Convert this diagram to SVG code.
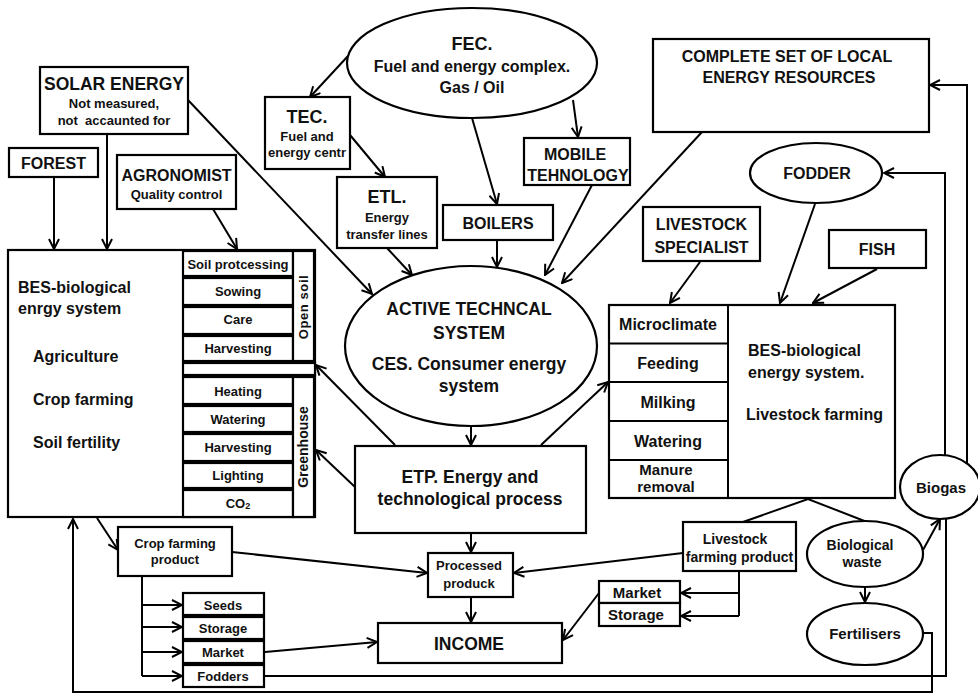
<svg xmlns="http://www.w3.org/2000/svg" width="978" height="694" viewBox="0 0 978 694">
<style>
.b{fill:#fff;stroke:#000;stroke-width:2.2}
.c{fill:none;stroke:#000;stroke-width:2;marker-end:url(#a)}
.l{fill:none;stroke:#000;stroke-width:2}
text{font-family:"Liberation Sans",Arial,sans-serif;font-weight:bold;fill:#111}
.m{text-anchor:middle}
.s13{font-size:13px}.s14{font-size:14px}.s15{font-size:15px}.s16{font-size:16px}.s17{font-size:17.5px}.s18{font-size:18px}
</style>
<defs>
<marker id="a" viewBox="0 0 12 12" refX="11" refY="6" markerWidth="12" markerHeight="12" markerUnits="userSpaceOnUse" orient="auto">
<path d="M1,1 L11,6 L1,11" fill="none" stroke="#000" stroke-width="2"/>
</marker>
</defs>
<rect width="978" height="694" fill="#fff"/>

<g id="connectors">
<path class="c" d="M348,56 L310,97"/>
<path class="c" d="M350,135 L385,177"/>
<path class="c" d="M472,118 L497,204"/>
<path class="c" d="M573,100 L578,137"/>
<path class="c" d="M188,100 L372,294"/>
<path class="c" d="M387,248 L412,275"/>
<path class="c" d="M497,240 L497,267"/>
<path class="c" d="M592,185 L545,275"/>
<path class="c" d="M702,132 L562,283"/>
<path class="c" d="M54,177 L54,249"/>
<path class="c" d="M107,134 L107,249"/>
<path class="c" d="M213,209 L237,249"/>
<path class="c" d="M471,426 L471,445"/>
<path class="c" d="M395,445 L316,365"/>
<path class="c" d="M355,487 L316,450"/>
<path class="c" d="M541,445 L608,382"/>
<path class="c" d="M700,262 L670,303"/>
<path class="c" d="M815,204 L780,303"/>
<path class="c" d="M877,269 L813,303"/>
<path class="c" d="M945,456 L945,173 L884,173"/>
<path class="c" d="M967,464 L967,85 L930,85"/>
<path class="l" d="M743,522 L808,499 L867,522"/>
<path class="c" d="M923,550 L940,519"/>
<path class="c" d="M865,588 L865,602"/>
<path class="c" d="M471,534 L471,552"/>
<path class="c" d="M471,597 L471,622"/>
<path class="c" d="M232,552 L427,573"/>
<path class="c" d="M683,553 L514,573"/>
<path class="l" d="M739,571 L739,616"/>
<path class="c" d="M739,593 L681,593"/>
<path class="c" d="M739,616 L681,616"/>
<path class="c" d="M599,593 L563,640"/>
<path class="c" d="M97,518 L118,550"/>
<path class="l" d="M142,576 L142,676"/>
<path class="c" d="M142,605 L182,605"/>
<path class="c" d="M142,627 L182,627"/>
<path class="c" d="M142,652 L182,652"/>
<path class="c" d="M142,676 L182,676"/>
<path class="c" d="M265,652 L377,642"/>
<path class="l" d="M265,676 L946,676 L946,519"/>
<path class="c" d="M923,633 L932,633 L932,692 L73,692 L73,519"/>
</g>

<g id="solar"><rect class="b" x="40" y="67" width="148" height="67"/>
<text class="m s17" x="114" y="90">SOLAR ENERGY</text>
<text class="m s13" x="114" y="108">Not measured,</text>
<text class="m s13" x="114" y="125" xml:space="preserve">not  accaunted for</text></g>

<g id="forest"><rect class="b" x="9" y="148" width="89" height="29"/>
<text class="m s16" x="53.5" y="169">FOREST</text></g>

<g id="agronomist"><rect class="b" x="117" y="155" width="119" height="54"/>
<text class="m s16" x="176.5" y="181">AGRONOMIST</text>
<text class="m s13" x="176.5" y="199">Quality control</text></g>

<g id="tec"><rect class="b" x="265" y="97" width="85" height="72"/>
<text class="m s18" x="307" y="123">TEC.</text>
<text class="m s13" x="307" y="141">Fuel and</text>
<text class="m s13" x="307" y="157">energy centr</text></g>

<g id="fec"><ellipse class="b" cx="472" cy="63" rx="125" ry="55"/>
<text class="m s18" x="472" y="50">FEC.</text>
<text class="m s16" x="472" y="72">Fuel and energy complex.</text>
<text class="m s16" x="472" y="93">Gas / Oil</text></g>

<g id="etl"><rect class="b" x="337" y="177" width="100" height="71"/>
<text class="m s18" x="387" y="203">ETL.</text>
<text class="m s13" x="387" y="222">Energy</text>
<text class="m s13" x="387" y="239">transfer lines</text></g>

<g id="boilers"><rect class="b" x="443" y="205" width="110" height="35"/>
<text class="m s16" x="498" y="229">BOILERS</text></g>

<g id="mobile"><rect class="b" x="524" y="138" width="106" height="47"/>
<text class="m s16" x="575" y="160">MOBILE</text>
<text class="m s16" x="578" y="181">TEHNOLOGY</text></g>

<g id="complete"><rect class="b" x="653" y="39" width="276" height="93"/>
<text class="m s16" x="787" y="62">COMPLETE SET OF LOCAL</text>
<text class="m s16" x="789" y="83">ENERGY RESOURCES</text></g>

<g id="fodder"><ellipse class="b" cx="816" cy="173" rx="66" ry="30"/>
<text class="m s16" x="817" y="179">FODDER</text></g>

<g id="livestock-specialist"><rect class="b" x="643" y="207" width="117" height="54"/>
<text class="m s16" x="701.5" y="230">LIVESTOCK</text>
<text class="m s16" x="701.5" y="253">SPECIALIST</text></g>

<g id="fish"><rect class="b" x="829" y="230" width="97" height="38"/>
<text class="m s16" x="877" y="255">FISH</text></g>

<g id="active"><ellipse class="b" cx="471" cy="346" rx="126" ry="80"/>
<text class="m s17" x="469" y="315">ACTIVE TECHNCAL</text>
<text class="m s17" x="469" y="339">SYSTEM</text>
<text class="m s17" x="469" y="370">CES. Consumer energy</text>
<text class="m s17" x="469" y="392">system</text></g>

<g id="etp"><rect class="b" x="355" y="446" width="231" height="87"/>
<text class="m s17" x="470" y="483">ETP. Energy and</text>
<text class="m s17" x="470" y="505">technological process</text></g>

<g id="bes-crop"><rect class="b" x="8" y="250" width="307" height="267"/>
<text class="s16" x="18" y="293">BES-biological</text>
<text class="s16" x="18" y="314">enrgy system</text>
<text class="s16" x="33" y="362">Agriculture</text>
<text class="s16" x="33" y="405">Crop farming</text>
<text class="s16" x="33" y="448">Soil fertility</text>
<rect class="b" x="183" y="251" width="110" height="25"/>
<rect class="b" x="183" y="278" width="110" height="27"/>
<rect class="b" x="183" y="307" width="110" height="27"/>
<rect class="b" x="183" y="336" width="110" height="25"/>
<rect class="b" x="293" y="251" width="21" height="110"/>
<rect class="b" x="183" y="363" width="132" height="12"/>
<rect class="b" x="183" y="377" width="110" height="27"/>
<rect class="b" x="183" y="406" width="110" height="26"/>
<rect class="b" x="183" y="434" width="110" height="27"/>
<rect class="b" x="183" y="463" width="110" height="25"/>
<rect class="b" x="183" y="490" width="110" height="27"/>
<rect class="b" x="293" y="377" width="21" height="140"/>
<text class="m s13" x="238" y="269">Soil protcessing</text>
<text class="m s13" x="238" y="296">Sowing</text>
<text class="m s13" x="238" y="324">Care</text>
<text class="m s13" x="238" y="353">Harvesting</text>
<text class="m s13" x="238" y="396">Heating</text>
<text class="m s13" x="238" y="424">Watering</text>
<text class="m s13" x="238" y="452">Harvesting</text>
<text class="m s13" x="238" y="480">Lighting</text>
<text class="m s13" x="238" y="508">CO<tspan font-size="9" dy="1">2</tspan></text>
<text class="m s13" transform="translate(308,307) rotate(-90)" letter-spacing="0.6">Open soil</text>
<text class="m s14" transform="translate(308,447) rotate(-90)">Greenhouse</text></g>

<g id="bes-livestock"><rect class="b" x="609" y="305" width="286" height="193"/>
<path class="l" d="M728,305 V498 M609,343.5 H728 M609,382 H728 M609,421 H728 M609,460 H728"/>
<text class="m s16" x="668" y="330">Microclimate</text>
<text class="m s16" x="668" y="369">Feeding</text>
<text class="m s16" x="668" y="408">Milking</text>
<text class="m s16" x="668" y="447">Watering</text>
<text class="m s15" x="666" y="475">Manure</text>
<text class="m s15" x="666" y="492">removal</text>
<text class="s16" x="748" y="356">BES-biological</text>
<text class="s16" x="748" y="378">energy system.</text>
<text class="s16" x="746" y="420">Livestock farming</text></g>

<g id="crop-product"><rect class="b" x="118" y="527" width="114" height="49"/>
<text class="m s13" x="175" y="548">Crop farming</text>
<text class="m s13" x="175" y="564">product</text></g>

<g id="crop-uses">
<rect class="b" x="183" y="593" width="81" height="22"/>
<rect class="b" x="183" y="617" width="81" height="22"/>
<rect class="b" x="183" y="641" width="81" height="22"/>
<rect class="b" x="183" y="665" width="81" height="22"/>
<text class="m s13" x="223" y="610">Seeds</text>
<text class="m s13" x="223" y="633">Storage</text>
<text class="m s13" x="223" y="657">Market</text>
<text class="m s13" x="223" y="681">Fodders</text></g>

<g id="processed"><rect class="b" x="428" y="553" width="85" height="44"/>
<text class="m s13" x="469" y="570">Processed</text>
<text class="m s13" x="469" y="588">produck</text></g>

<g id="income"><rect class="b" x="378" y="623" width="184" height="40"/>
<text class="m s17" x="469" y="650">INCOME</text></g>

<g id="market-storage"><rect class="b" x="599" y="581" width="81" height="22"/>
<rect class="b" x="599" y="603" width="81" height="23"/>
<text class="m s15" x="637" y="598">Market</text>
<text class="m s15" x="636" y="620">Storage</text></g>

<g id="livestock-product"><rect class="b" x="683" y="522" width="113" height="49"/>
<text class="m s14" x="735" y="544">Livestock</text>
<text class="m s14" x="739.5" y="562">farming product</text></g>

<g id="bio-waste"><ellipse class="b" cx="865" cy="554" rx="58" ry="33"/>
<text class="m s14" x="860" y="550">Biological</text>
<text class="m s14" x="862" y="567">waste</text></g>

<g id="fertilisers"><ellipse class="b" cx="865" cy="634" rx="58" ry="31"/>
<text class="m s15" x="865" y="639">Fertilisers</text></g>

<g id="biogas"><ellipse class="b" cx="940" cy="487" rx="40" ry="32"/>
<text class="m s15" x="941" y="493">Biogas</text></g>
</svg>
